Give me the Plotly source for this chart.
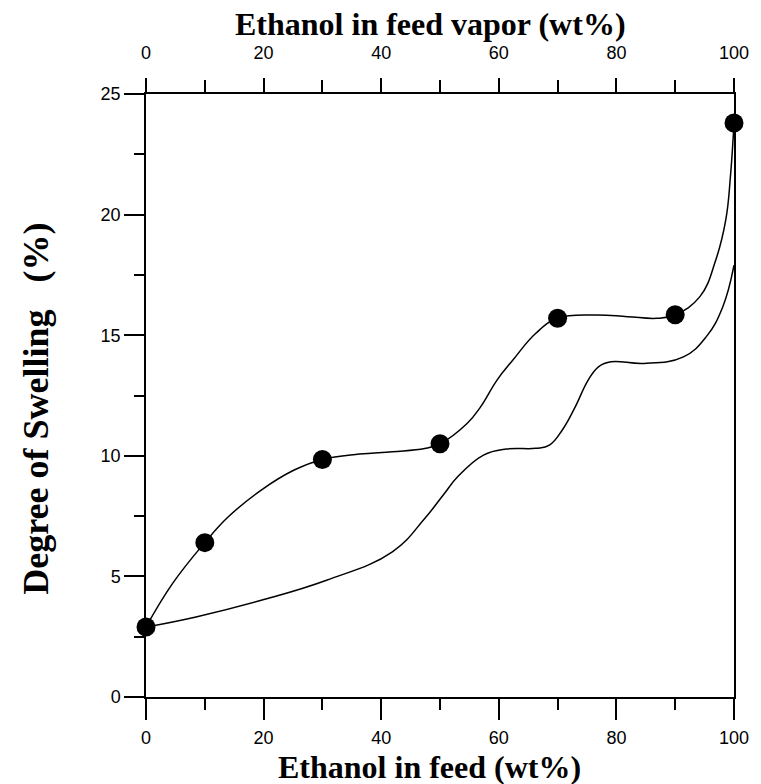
import plotly.graph_objects as go

# Measured data points (markers)
feed_wt = [0, 10, 30, 50, 70, 90, 100]
swelling = [2.9, 6.4, 9.85, 10.5, 15.7, 15.85, 23.8]

# Upper smooth curve through the markers
upper_x = [0, 4.5, 10, 14, 19.6, 25.2, 30, 36.3, 41.9, 47.4, 50, 54.6, 56.9, 59.7,
           62.4, 66.3, 70, 76.3, 81.9, 86.9, 90, 94.2, 96.9, 98.6, 99.4, 100]
upper_y = [2.9, 4.7, 6.4, 7.47, 8.58, 9.41, 9.85, 10.07, 10.17, 10.3, 10.5, 11.34, 12.03, 13.14,
           13.97, 15.08, 15.7, 15.84, 15.77, 15.7, 15.85, 16.6, 18.12, 19.78, 21.6, 23.8]

# Lower curve (vs. ethanol in feed vapor)
lower_x = [0, 8.5, 19.6, 30.7, 41.9, 47.4, 50.75, 53.0, 57.4, 61.3, 66.3, 68.6, 70.8, 73.0,
           75.2, 77.0, 79.1, 84.7, 91.4, 95.3, 98.1, 100]
lower_y = [2.9, 3.32, 4.01, 4.84, 6.02, 7.4, 8.44, 9.13, 10.03, 10.28, 10.31, 10.44, 11.07, 12.03,
           13.14, 13.7, 13.9, 13.83, 14.1, 14.94, 16.18, 17.9]

x_ticks = [0, 20, 40, 60, 80, 100]
y_ticks = [0, 5, 10, 15, 20, 25]

fig = go.Figure()
fig.add_trace(go.Scatter(x=lower_x, y=lower_y, mode="lines",
                         line=dict(color="black", width=1.5, shape="spline", smoothing=1.2),
                         cliponaxis=False, showlegend=False))
fig.add_trace(go.Scatter(x=upper_x, y=upper_y, mode="lines",
                         line=dict(color="black", width=1.5, shape="spline", smoothing=1.2),
                         cliponaxis=False, showlegend=False))
fig.add_trace(go.Scatter(x=feed_wt, y=swelling, mode="markers",
                         marker=dict(color="black", size=19),
                         cliponaxis=False, showlegend=False))
# invisible trace to activate top axis
fig.add_trace(go.Scatter(x=[0, 100], y=[0, 0], xaxis="x2", mode="lines",
                         line=dict(width=0), opacity=0, showlegend=False, hoverinfo="skip"))

tickfont = dict(family="Liberation Sans, Arial, sans-serif", size=18, color="black")
titlefont = dict(family="Liberation Serif, Times New Roman, serif", size=32, color="black")
ytitlefont = dict(family="Liberation Serif, Times New Roman, serif", size=36, color="black")

fig.update_layout(
    width=761, height=784,
    margin=dict(l=146, r=16, t=94, b=87),
    paper_bgcolor="white", plot_bgcolor="white",
    xaxis=dict(range=[0, 100], tickvals=x_ticks, ticks="outside", ticklen=21, tickwidth=1.5,
               tickcolor="black", showline=True, linewidth=1.5, linecolor="black",
               showgrid=False, zeroline=False, tickfont=tickfont, ticklabelstandoff=3,
               minor=dict(dtick=10, tick0=0, ticks="outside", ticklen=11, tickwidth=1.5,
                          tickcolor="black", showgrid=False)),
    xaxis2=dict(range=[0, 100], overlaying="x", side="top", anchor="y", tickvals=x_ticks,
                ticks="outside", ticklen=14, tickwidth=1.5, tickcolor="black",
                showline=True, linewidth=1.5, linecolor="black", showgrid=False,
                zeroline=False, tickfont=tickfont, ticklabelstandoff=12,
                minor=dict(dtick=10, tick0=0, ticks="outside", ticklen=12, tickwidth=1.5,
                           tickcolor="black", showgrid=False)),
    yaxis=dict(range=[0, 25], tickvals=y_ticks, ticks="outside", ticklen=20, tickwidth=1.5,
               tickcolor="black", showline=True, linewidth=1.5, linecolor="black",
               mirror=True, showgrid=False, zeroline=False, tickfont=tickfont,
               minor=dict(dtick=2.5, tick0=0, ticks="outside", ticklen=10, tickwidth=1.5,
                          tickcolor="black", showgrid=False)),
    annotations=[
        dict(text="<b>Ethanol in feed (wt%)</b>", xref="paper", yref="paper",
             x=0.482, y=-0.116, xanchor="center", yanchor="middle", showarrow=False,
             font=titlefont),
        dict(text="<b>Ethanol in feed vapor (wt%)</b>", xref="paper", yref="paper",
             x=0.484, y=1.116, xanchor="center", yanchor="middle", showarrow=False,
             font=titlefont),
        dict(text="<b>Degree of Swelling\u00a0\u00a0\u00a0(%)</b>",
             xref="paper", yref="paper", x=-0.187, y=0.478, xanchor="center",
             yanchor="middle", textangle=-90, showarrow=False, font=ytitlefont),
    ],
)

fig.write_html("out.html")
